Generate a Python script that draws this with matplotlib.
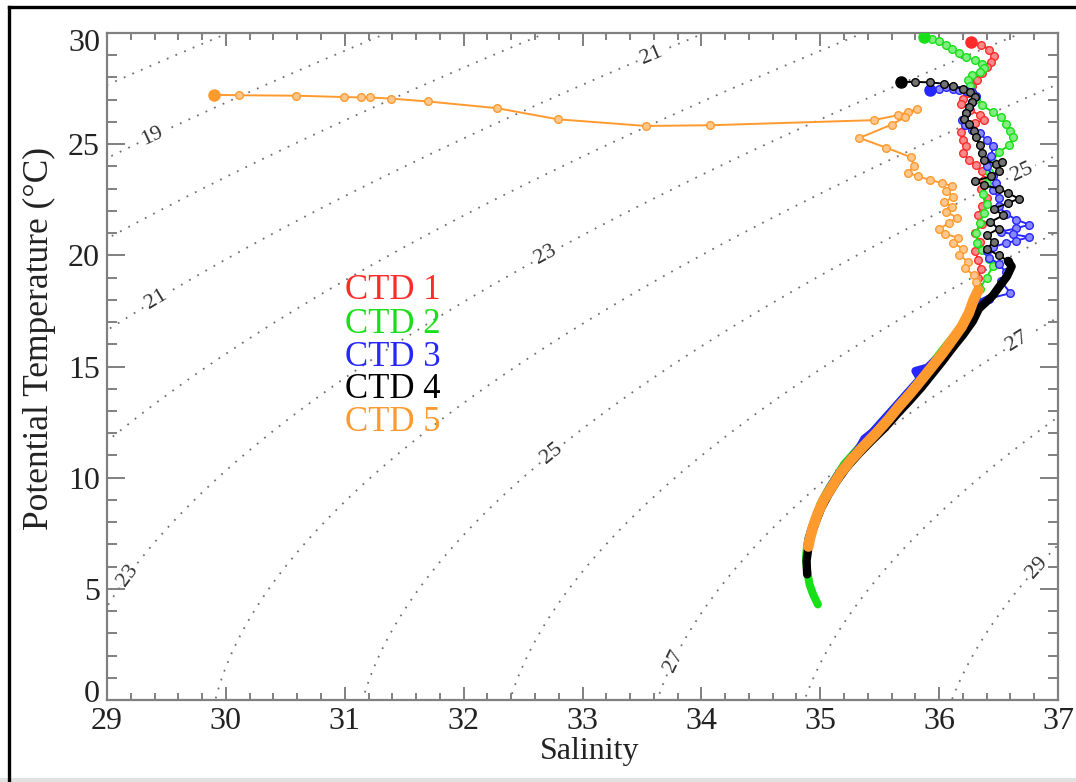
import numpy as np
import matplotlib
matplotlib.use("Agg")
import matplotlib.pyplot as plt
from matplotlib.ticker import MultipleLocator
from matplotlib.lines import Line2D
from matplotlib.patches import Rectangle
from matplotlib.transforms import ScaledTranslation

plt.rcParams['font.family'] = ['Liberation Serif', 'DejaVu Serif']

# ---------------- data ----------------
ctd_names = ["CTD 1", "CTD 2", "CTD 3", "CTD 4", "CTD 5"]
ctd_colors = ["#ff2b2b", "#18e018", "#2626ff", "#000000", "#ff9a2e"]

ctd1_sal = [36.27, 36.35, 36.42, 36.46, 36.44, 36.40, 36.36, 36.32, 36.28, 36.24, 36.20, 36.18,
            36.26, 36.34, 36.38, 36.30, 36.22, 36.18, 36.20, 36.23, 36.20, 36.25, 36.31, 36.36,
            36.38, 36.35, 36.40, 36.36, 36.33, 36.36, 36.30, 36.34, 36.30, 36.33, 36.35, 36.33,
            36.33, 36.31, 36.29, 36.24, 36.16, 36.07, 35.98, 35.89, 35.80, 35.70, 35.59, 35.49,
            35.38, 35.29, 35.20, 35.12, 35.06, 35.00, 34.96, 34.92, 34.90]
ctd1_temp = [29.60, 29.48, 29.25, 28.95, 28.70, 28.45, 28.20, 27.90, 27.60, 27.30, 27.02, 26.80,
             26.55, 26.30, 26.10, 25.95, 25.85, 25.55, 25.20, 24.90, 24.60, 24.30, 24.05, 23.80,
             23.40, 23.00, 22.60, 22.20, 21.80, 21.40, 21.00, 20.60, 20.20, 19.80, 19.40, 19.00,
             18.60, 18.15, 17.75, 17.20, 16.55, 15.95, 15.35, 14.75, 14.15, 13.55, 12.90, 12.30,
             11.70, 11.10, 10.50, 9.90, 9.30, 8.70, 8.10, 7.50, 7.05]

ctd2_sal = [35.87, 35.94, 36.00, 36.06, 36.11, 36.17, 36.23, 36.30, 36.36, 36.38, 36.34, 36.28,
            36.24, 36.26, 36.28, 36.31, 36.36, 36.45, 36.52, 36.56, 36.60, 36.62, 36.59, 36.50,
            36.45, 36.42, 36.40, 36.37, 36.40, 36.38, 36.34, 36.31, 36.32, 36.36, 36.42, 36.45,
            36.40, 36.34, 36.31, 36.28, 36.23, 36.15, 36.06, 35.98, 35.89, 35.80, 35.70, 35.60,
            35.50, 35.40, 35.30, 35.20, 35.13, 35.06, 35.00, 34.96, 34.92, 34.89, 34.88, 34.89,
            34.91, 34.94, 34.98]
ctd2_temp = [29.80, 29.72, 29.62, 29.45, 29.28, 29.08, 28.92, 28.78, 28.62, 28.42, 28.25, 28.10,
             27.90, 27.62, 27.32, 27.02, 26.75, 26.45, 26.20, 25.90, 25.60, 25.30, 24.95, 24.65,
             24.20, 23.75, 23.25, 22.75, 22.30, 21.90, 21.45, 21.00, 20.55, 20.25, 19.85, 19.50,
             19.00, 18.50, 18.10, 17.70, 17.15, 16.55, 15.95, 15.40, 14.80, 14.20, 13.60, 13.00,
             12.40, 11.80, 11.20, 10.60, 10.00, 9.40, 8.80, 8.20, 7.60, 7.00, 6.40, 5.80,
             5.20, 4.75, 4.30]

ctd3_sal = [35.92, 36.00, 36.06, 36.12, 36.17, 36.23, 36.28, 36.31, 36.28, 36.25, 36.23, 36.19,
            36.22, 36.28, 36.34, 36.40, 36.45, 36.44, 36.40, 36.45, 36.48, 36.45, 36.50, 36.50,
            36.56, 36.65, 36.76, 36.65, 36.52, 36.62, 36.76, 36.65, 36.56, 36.45, 36.40, 36.42,
            36.50, 36.56, 36.52, 36.60, 36.42, 36.29, 36.24, 36.17, 36.08, 36.00, 35.90, 35.80,
            35.84, 35.74, 35.64, 35.54, 35.44, 35.37, 35.33, 35.24, 35.15, 35.08, 35.02, 34.97,
            34.93, 34.90]
ctd3_temp = [27.45, 27.50, 27.55, 27.50, 27.45, 27.40, 27.33, 27.15, 26.90, 26.68, 26.40, 26.10,
             25.85, 25.65, 25.48, 25.20, 24.90, 24.45, 24.02, 23.55, 23.25, 22.95, 22.60, 22.22,
             21.88, 21.60, 21.38, 21.22, 21.06, 20.95, 20.82, 20.66, 20.55, 20.36, 20.18, 19.90,
             19.62, 19.25, 18.85, 18.30, 18.05, 17.70, 17.20, 16.60, 16.00, 15.45, 14.95, 14.80,
             14.45, 13.85, 13.25, 12.65, 12.05, 11.75, 11.35, 10.75, 10.15, 9.55, 8.95, 8.35,
             7.75, 7.25]

ctd4_sal = [35.68, 35.80, 35.92, 36.04, 36.12, 36.20, 36.26, 36.30, 36.28, 36.25, 36.23, 36.21,
            36.25, 36.29, 36.31, 36.34, 36.36, 36.38, 36.48, 36.53, 36.50, 36.44, 36.30, 36.38,
            36.50, 36.58, 36.67, 36.58, 36.46, 36.54, 36.43, 36.50, 36.40, 36.46, 36.40, 36.50,
            36.58, 36.61, 36.57, 36.51, 36.45, 36.335, 36.285, 36.205, 36.115, 36.03, 35.94, 35.85,
            35.75, 35.645, 35.545, 35.43, 35.32, 35.22, 35.14, 35.07, 35.01, 34.965, 34.925, 34.90,
            34.885, 34.89]
ctd4_temp = [27.80, 27.80, 27.78, 27.72, 27.60, 27.48, 27.33, 27.12, 26.90, 26.65, 26.40, 26.15,
             25.90, 25.60, 25.30, 24.95, 24.60, 24.30, 24.10, 24.18, 23.80, 23.55, 23.35, 23.15,
             23.00, 22.80, 22.55, 22.35, 22.10, 21.80, 21.50, 21.20, 20.90, 20.60, 20.30, 20.00,
             19.75, 19.50, 19.05, 18.62, 18.18, 17.60, 17.05, 16.45, 15.85, 15.25, 14.65, 14.05,
             13.45, 12.85, 12.25, 11.65, 11.05, 10.45, 9.85, 9.25, 8.65, 8.05, 7.45, 6.85,
             6.25, 5.65]

ctd5_sal = [29.90, 30.11, 30.59, 30.99, 31.14, 31.21, 31.39, 31.70, 32.28, 32.79, 33.53, 34.07,
            35.45, 35.65, 35.74, 35.81, 35.71, 35.60, 35.33, 35.55, 35.76, 35.79, 35.74, 35.82,
            35.92, 36.02, 36.11, 36.06, 36.12, 36.04, 36.11, 36.06, 36.15, 36.08, 36.00, 36.05,
            36.16, 36.12, 36.20, 36.17, 36.24, 36.22, 36.29, 36.31, 36.33, 36.29, 36.25, 36.19,
            36.11, 36.03, 35.94, 35.85, 35.76, 35.66, 35.57, 35.47, 35.36, 35.26, 35.17, 35.10,
            35.03, 34.98, 34.94, 34.91, 34.90]
ctd5_temp = [27.22, 27.20, 27.18, 27.12, 27.10, 27.10, 27.05, 26.92, 26.62, 26.12, 25.82, 25.85,
             26.08, 26.30, 26.45, 26.58, 26.20, 25.88, 25.28, 24.85, 24.42, 24.00, 23.72, 23.55,
             23.40, 23.25, 23.12, 22.90, 22.62, 22.40, 22.18, 21.95, 21.70, 21.45, 21.18, 20.98,
             20.78, 20.55, 20.30, 20.02, 19.72, 19.42, 19.10, 18.78, 18.44, 17.99, 17.40, 16.79,
             16.19, 15.60, 14.99, 14.39, 13.80, 13.19, 12.60, 12.00, 11.39, 10.80, 10.20, 9.60,
             9.00, 8.40, 7.80, 7.20, 6.90]

profiles_sal = [ctd1_sal, ctd2_sal, ctd3_sal, ctd4_sal, ctd5_sal]
profiles_temp = [ctd1_temp, ctd2_temp, ctd3_temp, ctd4_temp, ctd5_temp]

sigma_plain_levels = [18, 20, 22, 24, 26, 28]
sigma_label_levels = [19, 21, 23, 25, 27, 29]
x_ticks = [29, 30, 31, 32, 33, 34, 35, 36, 37]
y_ticks = [0, 5, 10, 15, 20, 25, 30]

# ---------------- layout / style ----------------
W, H = 1076, 782
split_temps = [18.0, 18.0, 18.0, 19.6, 18.0]   # below: dense part drawn as a band
band_widths = [5.8, 5.8, 5.8, 6.0, 7.6]
label_pos = [(29.36, 25.55), (33.58, 29.0), (29.40, 18.13), (32.68, 20.1), (29.18, 5.6),
             (36.69, 23.8), (32.72, 11.25), (36.65, 16.2), (33.75, 1.8), (36.84, 5.9)]
legend_x = 31.0
legend_y = [18.44, 16.90, 15.40, 13.95, 12.50]


def sigma_theta(S, T):
    """UNESCO EOS-80 density anomaly at surface pressure."""
    rw = (999.842594 + 6.793952e-2 * T - 9.095290e-3 * T**2 + 1.001685e-4 * T**3
          - 1.120083e-6 * T**4 + 6.536332e-9 * T**5)
    A = 8.24493e-1 - 4.0899e-3 * T + 7.6438e-5 * T**2 - 8.2467e-7 * T**3 + 5.3875e-9 * T**4
    B = -5.72466e-3 + 1.0227e-4 * T - 1.6546e-6 * T**2
    C = 4.8314e-4
    return rw + A * S + B * S**1.5 + C * S**2 - 1000.0


def lighten(c, f=0.5):
    r, g, b = matplotlib.colors.to_rgb(c)
    return (r + (1 - r) * f, g + (1 - g) * f, b + (1 - b) * f)


fig = plt.figure(figsize=(W / 100, H / 100), dpi=100)
ax = fig.add_axes([107 / W, 1 - 700 / H, (1058 - 107) / W, (700 - 33) / H])
ax.set_xlim(29, 37)
ax.set_ylim(0, 30)

# density contours
sg, tg = np.meshgrid(np.linspace(28.9, 37.1, 300), np.linspace(-0.5, 30.5, 300))
sig = sigma_theta(sg, tg)
cstyle = dict(colors='#707070', linewidths=1.3, linestyles=[(0, (1, 4.2))], zorder=1)
ax.contour(sg, tg, sig, levels=sigma_plain_levels, **cstyle)
cs = ax.contour(sg, tg, sig, levels=sigma_label_levels, **cstyle)
ax.clabel(cs, manual=label_pos, inline=True, inline_spacing=4,
          fontsize=16, fmt='%d', colors='#333333')

# profiles
for sal, temp, col, ts, bw in zip(profiles_sal, profiles_temp, ctd_colors,
                                   split_temps, band_widths):
    sal = np.asarray(sal)
    temp = np.asarray(temp)
    k = int(np.argmax(temp < ts))
    ax.plot(sal[:k], temp[:k], '-', color=col, lw=1.4, marker='o', ms=5.5,
            mfc=lighten(col, 0.45), mec=col, mew=1.0, zorder=3)
    ax.plot(sal[k - 1:], temp[k - 1:], '-', color=col, lw=bw,
            solid_capstyle='round', solid_joinstyle='round', zorder=3)
    ax.plot(sal[:1], temp[:1], 'o', color=col, ms=8, zorder=3)

# legend texts
for name, col, ly in zip(ctd_names, ctd_colors, legend_y):
    ax.text(legend_x, ly, name, color=col, fontsize=25, ha='left', va='center', zorder=4)

# axes styling
for sp in ax.spines.values():
    sp.set_color('#808080')
    sp.set_linewidth(1.6)
ax.set_xticks(x_ticks)
ax.set_yticks(y_ticks)
ax.xaxis.set_minor_locator(MultipleLocator(0.2))
ax.yaxis.set_minor_locator(MultipleLocator(1))
ax.tick_params(which='both', direction='in', top=True, right=True, color='#808080',
               width=1.4, labelsize=23, labelcolor='#222222')
ax.tick_params(axis='x', which='major', length=9.5, pad=5)
ax.tick_params(axis='x', which='minor', length=5)
ax.tick_params(axis='y', which='major', length=13, pad=5)
ax.tick_params(axis='y', which='minor', length=7)

fig.text(590 / W, 1 - 752 / H, "Salinity", fontsize=23, color='#222222',
         ha='center', va='center')
fig.text(39 / W, 1 - 338 / H, "Potential Temperature (°C)", fontsize=25.5, color='#222222',
         ha='center', va='center', rotation=90)

# outer frame fragments
fig.add_artist(Line2D([9 / W, 9 / W], [0, 1 - 7 / H], transform=fig.transFigure,
                      color='black', lw=2.4))
fig.add_artist(Line2D([9 / W, 1], [1 - 7 / H, 1 - 7 / H], transform=fig.transFigure,
                      color='black', lw=2.4))
fig.add_artist(Rectangle((0, 0), 1, 4 / H, transform=fig.transFigure,
                         color='#e2e2e2', lw=0))

# end y tick labels sit slightly inside the axis range, as in the reference
fig.canvas.draw()
ylabels = ax.yaxis.get_majorticklabels()
ylabels[0].set_transform(ylabels[0].get_transform() +
                         ScaledTranslation(0, 9 / 100, fig.dpi_scale_trans))
ylabels[-1].set_transform(ylabels[-1].get_transform() +
                          ScaledTranslation(0, -7 / 100, fig.dpi_scale_trans))

fig.savefig("out.png", dpi=100)
